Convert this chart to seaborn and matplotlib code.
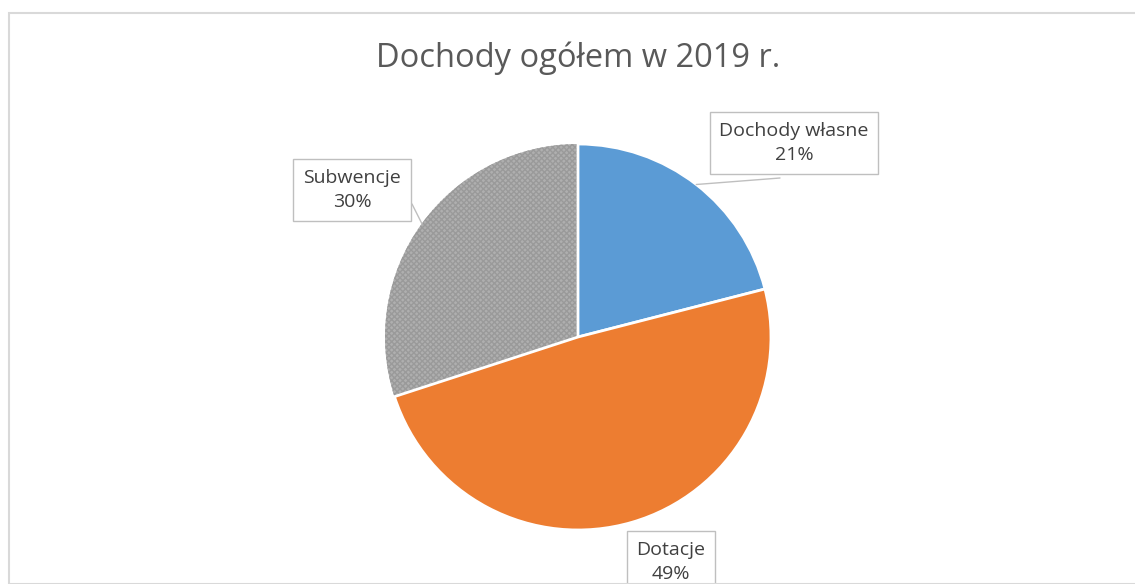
import numpy as np
import matplotlib.pyplot as plt
import matplotlib.patches as mpatches
import seaborn as sns

# dane
categories = ['Dochody własne', 'Dotacje', 'Subwencje']
shares = [21, 49, 30]
colors = ['#5B9BD5', '#ED7D31', '#AFAFAF']
title = 'Dochody ogółem w 2019 r.'

sns.set_style('white')
plt.rcParams['font.family'] = ['Open Sans', 'DejaVu Sans']

W, H = 1135, 584
fig = plt.figure(figsize=(W / 100, H / 100), dpi=100)
ax = fig.add_axes([0, 0, 1, 1])

# ramka obszaru wykresu
fig.patches.append(mpatches.Rectangle((9 / W, 0), 2, (H - 13) / H, transform=fig.transFigure,
                                      fill=False, edgecolor='#D9D9D9', linewidth=1.5))

cx, cy, r = 578, H - 337, 193
wedges, _ = ax.pie(shares, colors=colors, startangle=90, counterclock=False,
                   center=(cx, cy), radius=r,
                   wedgeprops={'edgecolor': 'white', 'linewidth': 2})

# faktura szarego wycinka
g = wedges[2]
g.set_hatch('xxxxxx')
g.set_edgecolor('#9A9A9A')
g.set_linewidth(0)
g.set_zorder(0.5)

ax.set_xlim(0, W)
ax.set_ylim(0, H)
ax.set_aspect('equal')
ax.axis('off')

ax.text(cx, H - 58, title, ha='center', va='center', fontsize=23.5, color='#595959')

# etykiety w ramkach (środek ramki w pikselach)
label_pos = [(794, 143), (671, 562), (352, 190)]
box_anchor = [(780, 178), None, (412, 204)]
for w, name, val, (lx, ly), anc in zip(wedges, categories, shares, label_pos, box_anchor):
    ang = np.deg2rad((w.theta1 + w.theta2) / 2)
    px, py = cx + r * np.cos(ang), cy + r * np.sin(ang)
    if anc is not None:
        ax.plot([px, anc[0]], [py, H - anc[1]], color='#BFBFBF', lw=1, zorder=3)
    ax.text(lx, H - ly, f'{name}\n{val}%', ha='center', va='center', fontsize=14,
            color='#404040', linespacing=1.45, zorder=4,
            bbox=dict(boxstyle='square,pad=0.5', facecolor='white', edgecolor='#BFBFBF', lw=1))

fig.savefig('out.png', dpi=100)
